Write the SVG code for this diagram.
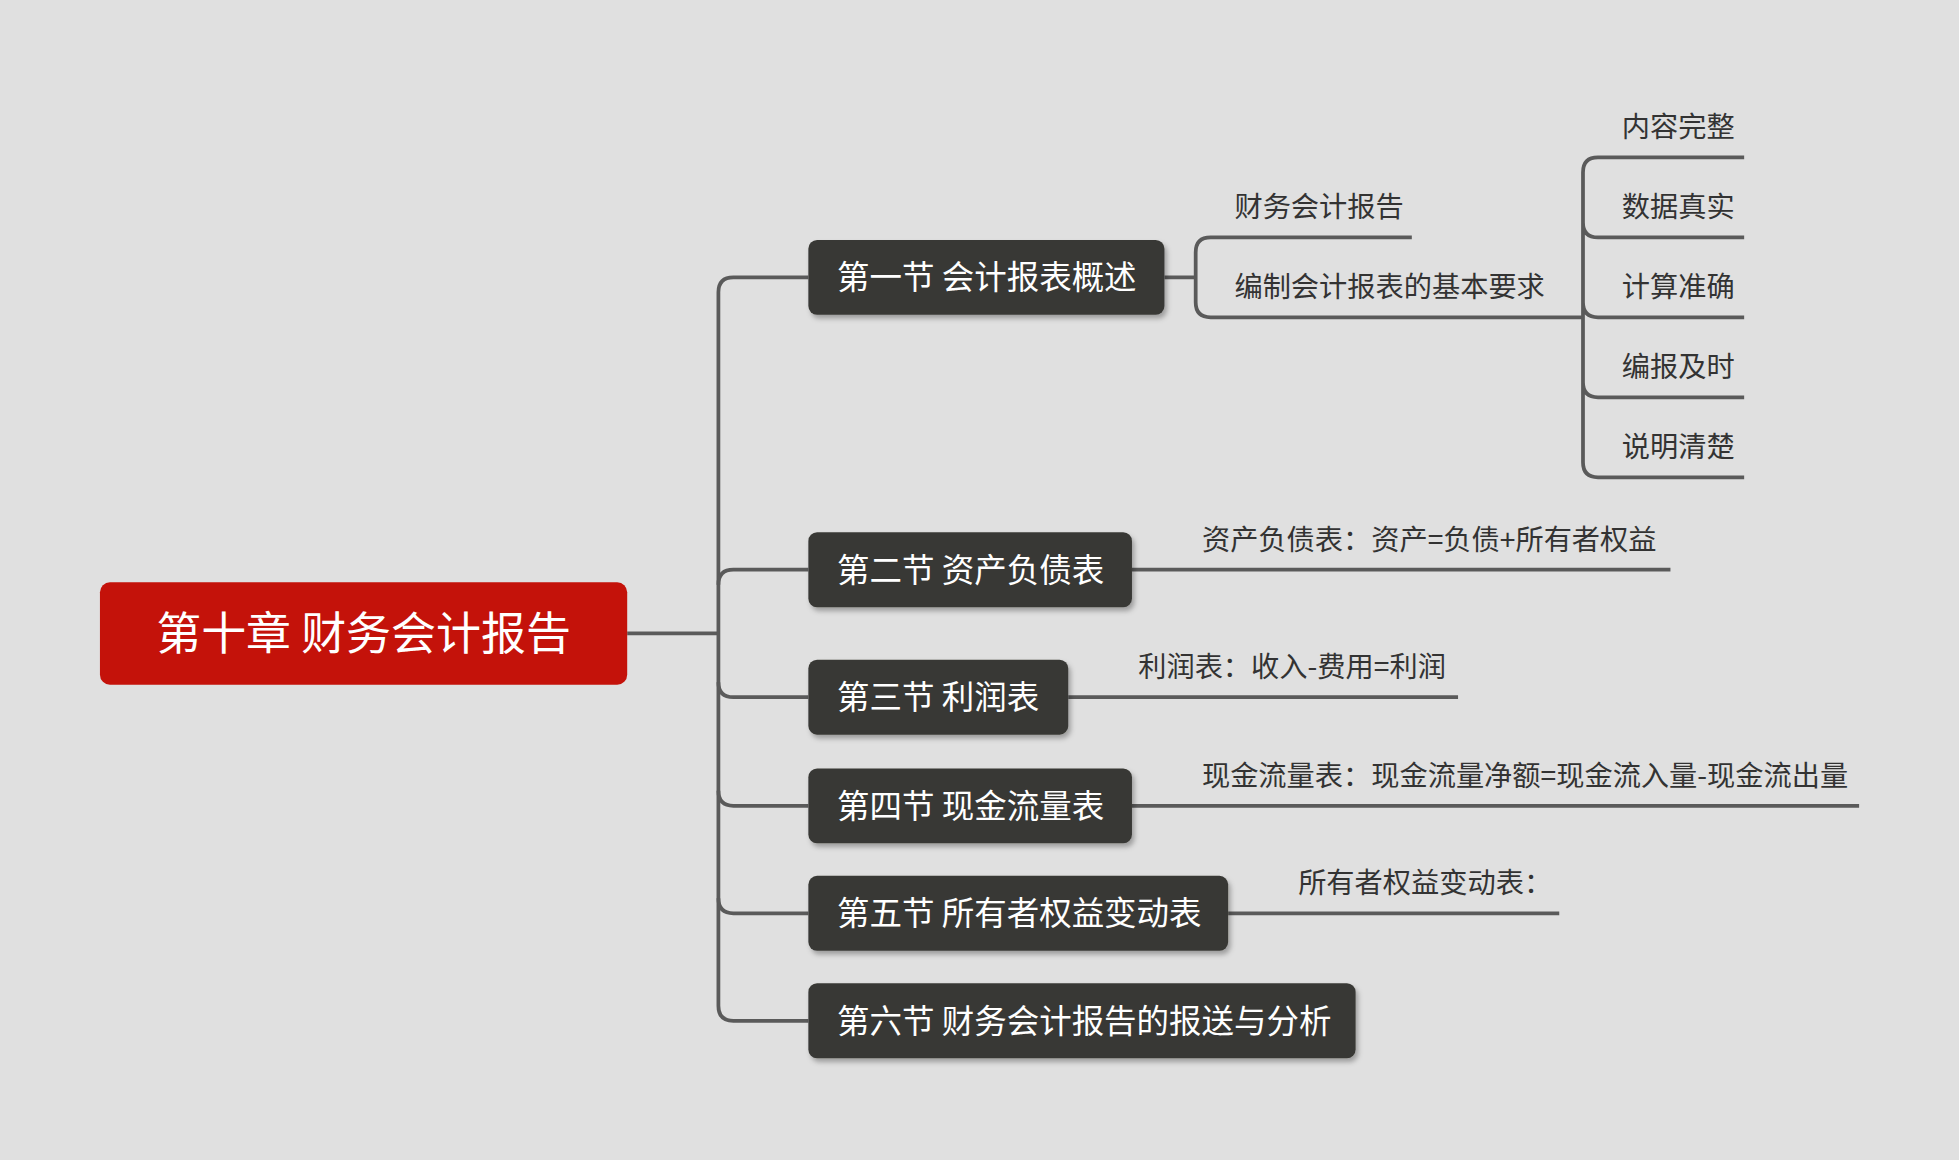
<svg xmlns="http://www.w3.org/2000/svg" width="1959" height="1160" viewBox="0 0 1959 1160">
<defs>
<style>
.c{fill:none;stroke:#5a5a5a;stroke-width:3}
.sec{fill:#383834}
.st{fill:#fff;font-family:"Noto Sans CJK SC",sans-serif;font-size:26px;dominant-baseline:central}
.lt{fill:#333;font-family:"Noto Sans CJK SC",sans-serif;font-size:22.6px;dominant-baseline:central}
</style>
<filter id="sh" x="-10%" y="-20%" width="130%" height="160%"><feDropShadow dx="2" dy="3" stdDeviation="2" flood-opacity="0.3"/></filter>
</defs>
<rect width="1959" height="1160" fill="#e0e0e0"/>
<g transform="scale(1.2494)">
<g id="connectors">
<path class="c" d="M502 507H575"/>
<path class="c" d="M647 222H587Q575 222 575 234V805Q575 817 587 817H647"/>
<path class="c" d="M575 468Q575 456 587 456H647M575 546Q575 558 587 558H647M575 633Q575 645 587 645H647M575 719Q575 731 587 731H647"/>
<path class="c" d="M932 222H957M1130 190H969Q957 190 957 202V242Q957 254 969 254H1267"/>
<path class="c" d="M1396 126H1279Q1267 126 1267 138V370Q1267 382 1279 382H1396M1267 178Q1267 190 1279 190H1396M1267 242Q1267 254 1279 254H1396M1267 306Q1267 318 1279 318H1396"/>
<path class="c" d="M906 456H1337M855 558H1167M906 645H1488M983 731H1248"/>
</g>
<g id="root"><rect x="80" y="466" width="422" height="82" rx="8" fill="#c4120a"/><text x="291" y="505" text-anchor="middle" fill="#fff" font-family="Noto Sans CJK SC,sans-serif" font-size="36" dominant-baseline="central">第十章 财务会计报告</text></g>
<g id="s1"><rect class="sec" filter="url(#sh)" x="647" y="192" width="285" height="60" rx="7"/><text class="st" x="670" y="220">第一节 会计报表概述</text></g>
<g id="s2"><rect class="sec" filter="url(#sh)" x="647" y="426" width="259" height="60" rx="7"/><text class="st" x="670" y="454">第二节 资产负债表</text></g>
<g id="s3"><rect class="sec" filter="url(#sh)" x="647" y="528" width="208" height="60" rx="7"/><text class="st" x="670" y="556">第三节 利润表</text></g>
<g id="s4"><rect class="sec" filter="url(#sh)" x="647" y="615" width="259" height="60" rx="7"/><text class="st" x="670" y="643">第四节 现金流量表</text></g>
<g id="s5"><rect class="sec" filter="url(#sh)" x="647" y="701" width="336" height="60" rx="7"/><text class="st" x="670" y="729">第五节 所有者权益变动表</text></g>
<g id="s6"><rect class="sec" filter="url(#sh)" x="647" y="787" width="438" height="60" rx="7"/><text class="st" x="670" y="815">第六节 财务会计报告的报送与分析</text></g>
<g id="l1"><text class="lt" x="988" y="164">财务会计报告</text></g>
<g id="l2"><text class="lt" x="988" y="228">编制会计报表的基本要求</text></g>
<g id="r1"><text class="lt" x="1298" y="100">内容完整</text></g>
<g id="r2"><text class="lt" x="1298" y="164">数据真实</text></g>
<g id="r3"><text class="lt" x="1298" y="228">计算准确</text></g>
<g id="r4"><text class="lt" x="1298" y="292">编报及时</text></g>
<g id="r5"><text class="lt" x="1298" y="356">说明清楚</text></g>
<g id="t2"><text class="lt" x="962" y="430">资产负债表：资产=负债+所有者权益</text></g>
<g id="t3"><text class="lt" x="911" y="532">利润表：收入-费用=利润</text></g>
<g id="t4"><text class="lt" x="962" y="619">现金流量表：现金流量净额=现金流入量-现金流出量</text></g>
<g id="t5"><text class="lt" x="1039" y="705">所有者权益变动表：</text></g>
</g>
</svg>
